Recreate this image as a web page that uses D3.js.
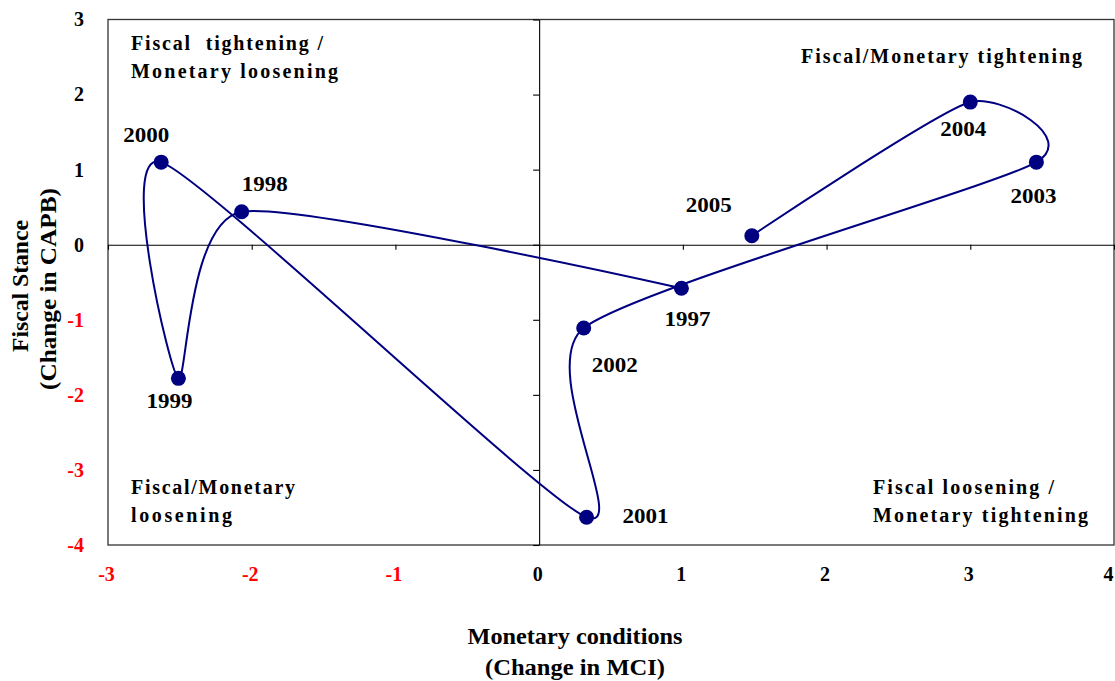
<!DOCTYPE html>
<html><head><meta charset="utf-8">
<script src="https://cdn.jsdelivr.net/npm/d3@7"></script>
<style>
body{margin:0;background:#fff}
text{font-family:"Liberation Serif","Times New Roman",serif;font-weight:bold;white-space:pre}
</style>
</head><body>
<svg id="c" width="1115" height="681"></svg>
<script>
// ---- data ----
const years = ["1997","1998","1999","2000","2001","2002","2003","2004","2005"];
const mciChange = [0.99, -2.07, -2.51, -2.63, 0.33, 0.31, 3.46, 3.00, 1.48];
const capbChange = [-0.58, 0.44, -1.78, 1.10, -3.63, -1.11, 1.10, 1.90, 0.12];
const xTickValues = [-3, -2, -1, 0, 1, 2, 3, 4];
const yTickValues = [3, 2, 1, 0, -1, -2, -3, -4];
const quadrantTexts = [
  ["Fiscal  tightening /", "Monetary loosening"],
  ["Fiscal/Monetary tightening"],
  ["Fiscal/Monetary", "loosening"],
  ["Fiscal loosening /", "Monetary tightening"]
];
const xTitle = ["Monetary conditions", "(Change in MCI)"];
const yTitle = ["Fiscal Stance", "(Change in CAPB)"];

// ---- layout (pixels) ----
const labelOffsets = [[-17,38],[0,-21],[-32,30],[-38,-20],[36,6],[8,44],[-26,41],[-30,34],[-66,-24]];
const quadrantLayout = [
  {x:131, y:[50,78], w:[192,207]},
  {x:801, y:[63], w:[281]},
  {x:131, y:[494,522], w:[164,101]},
  {x:873, y:[494,522], w:[181,215]}
];

const svg = d3.select("#c");
const X0 = 108, X1 = 1114, Y0 = 19.5, Y1 = 545;
const x = d3.scaleLinear().domain([-3, 4]).range([X0, X1]);
const y = d3.scaleLinear().domain([-4, 3]).range([Y1, Y0]);
const tickColor = v => v < 0 ? "#FF0000" : "#000";
const fmt = d => String(d);

// frame
svg.append("rect").attr("x", X0).attr("y", Y0).attr("width", X1 - X0).attr("height", Y1 - Y0)
  .attr("fill", "none").attr("stroke", "#333").attr("stroke-width", 1.3);

// axes through zero
const gx = svg.append("g").attr("transform", `translate(0,${y(0)})`)
  .call(d3.axisBottom(x).tickValues(xTickValues).tickSize(5).tickSizeOuter(0).tickFormat(""));
const gy = svg.append("g").attr("transform", `translate(${x(0)},0)`)
  .call(d3.axisLeft(y).tickValues(yTickValues).tickSize(6).tickSizeOuter(0).tickFormat(""));
[gx, gy].forEach(g => { g.selectAll("path,line").attr("stroke", "#000").attr("stroke-width", 1.1); });

// tick labels at low position
const lx = svg.append("g").attr("transform", `translate(0,${Y1})`)
  .call(d3.axisBottom(x).tickValues(xTickValues).tickSize(0).tickPadding(22).tickFormat(fmt));
lx.select(".domain").remove();
lx.selectAll("text").style("font-size", "20px").style("font-weight", "700")
  .style("font-family", "'Liberation Serif', serif").attr("fill", tickColor)
  .attr("dx", d => d === 4 ? -6 : -2);
const ly = svg.append("g").attr("transform", `translate(${X0},0)`)
  .call(d3.axisLeft(y).tickValues(yTickValues).tickSize(0).tickPadding(24).tickFormat(fmt));
ly.select(".domain").remove();
ly.selectAll("text").style("font-size", "20px").style("font-weight", "700")
  .style("font-family", "'Liberation Serif', serif").attr("fill", tickColor);

// quadrant labels
quadrantTexts.forEach((lines, i) => {
  const q = quadrantLayout[i];
  lines.forEach((t, j) => {
    svg.append("text").attr("x", q.x).attr("y", q.y[j]).style("font-size", "20px")
      .attr("textLength", q.w[j]).attr("lengthAdjust", "spacing").attr("fill", "#000").text(t);
  });
});

// path
const pts = years.map((yr, i) => ({yr, mx: mciChange[i], cy: capbChange[i], off: labelOffsets[i]}));
const line = d3.line().x(d => x(d.mx)).y(d => y(d.cy)).curve(d3.curveCardinal.tension(0.35));
svg.append("path").datum(pts).attr("d", line).attr("fill", "none")
  .attr("stroke", "#000080").attr("stroke-width", 2);

svg.selectAll("circle.pt").data(pts).join("circle").attr("class", "pt")
  .attr("cx", d => x(d.mx)).attr("cy", d => y(d.cy)).attr("r", 7.5).attr("fill", "#000080");

svg.selectAll("text.yr").data(pts).join("text").attr("class", "yr")
  .attr("x", d => x(d.mx) + d.off[0]).attr("y", d => y(d.cy) + d.off[1])
  .style("font-size", "21px").attr("textLength", 46).attr("lengthAdjust", "spacingAndGlyphs")
  .attr("fill", "#000").text(d => d.yr);

// axis titles
const xt = [[575, 644, 215], [575, 675, 180]];
xTitle.forEach((t, i) => {
  svg.append("text").attr("x", xt[i][0]).attr("y", xt[i][1]).attr("text-anchor", "middle")
    .style("font-size", "23px").attr("textLength", xt[i][2]).attr("lengthAdjust", "spacingAndGlyphs").text(t);
});
const yt = [[28, 286, 132], [56, 289, 202]];
yTitle.forEach((t, i) => {
  svg.append("text").attr("transform", `translate(${yt[i][0]},${yt[i][1]}) rotate(-90)`)
    .attr("text-anchor", "middle").style("font-size", "23px")
    .attr("textLength", yt[i][2]).attr("lengthAdjust", "spacingAndGlyphs").text(t);
});
</script>
</body></html>
